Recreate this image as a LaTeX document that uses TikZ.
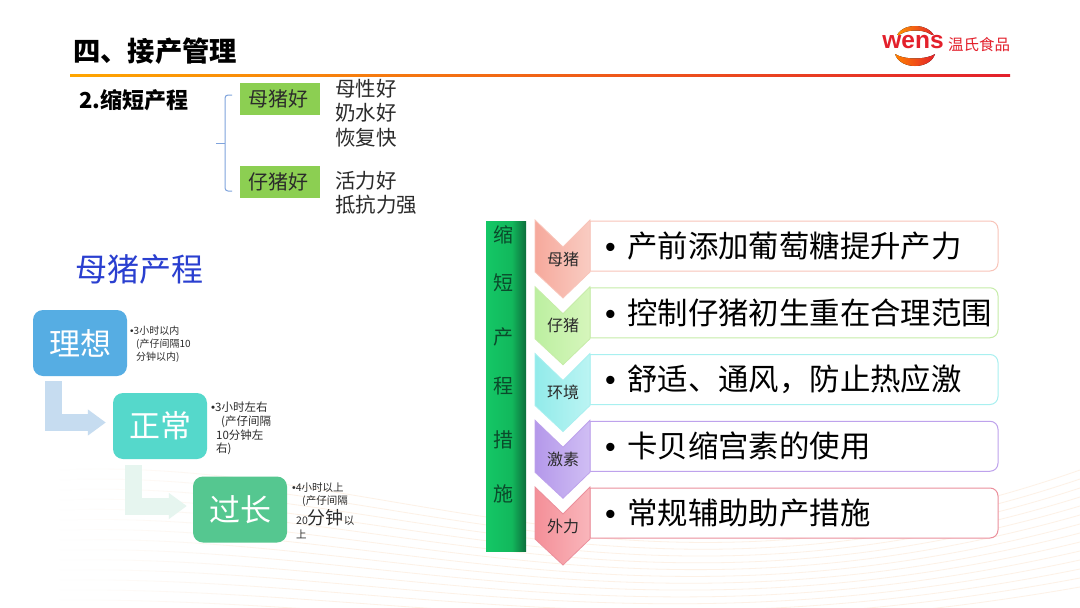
\documentclass[tikz,border=0pt]{standalone}
\usepackage{fontspec}
\setmainfont{Noto Sans CJK SC}
\newfontfamily\latinfont{Liberation Sans}
\usetikzlibrary{arrows.meta,calc,fadings}

\definecolor{wavec}{HTML}{FDF1E6}
\definecolor{redc}{HTML}{E3202B}
\definecolor{bluec}{HTML}{7FA3DC}
\definecolor{greenc}{HTML}{8CCF52}
\definecolor{titlec}{HTML}{2A3FD0}
\definecolor{textc}{HTML}{2B2B2B}
\definecolor{lixiangc}{HTML}{56ADE3}
\definecolor{zhengc}{HTML}{55D8CB}
\definecolor{guoc}{HTML}{55C790}
\definecolor{flowa}{HTML}{C6DCF0}
\definecolor{flowb}{HTML}{E6F5EF}
\definecolor{baral}{HTML}{14C766}
\definecolor{barbl}{HTML}{12B85C}
\definecolor{bard}{HTML}{0D6E3C}
\definecolor{barte}{HTML}{0B4A2B}
\definecolor{aa}{HTML}{F6A99C}
\definecolor{ab}{HTML}{F9CCC2}
\definecolor{ac}{HTML}{F8C4B9}
\definecolor{ba}{HTML}{BCEFA0}
\definecolor{bb}{HTML}{D6F6BC}
\definecolor{bc}{HTML}{C6ECA8}
\definecolor{ca}{HTML}{92EBEA}
\definecolor{cb}{HTML}{BBF4F3}
\definecolor{cc}{HTML}{A8F0F0}
\definecolor{da}{HTML}{B498EA}
\definecolor{db}{HTML}{D0BEF4}
\definecolor{dc}{HTML}{BEA2EC}
\definecolor{ea}{HTML}{F48F98}
\definecolor{eb}{HTML}{F9B6BB}
\definecolor{ec}{HTML}{EB8F9C}
\pgfdeclarehorizontalshading{barshade}{100bp}{color(0bp)=(baral); color(25bp)=(baral); color(57bp)=(barbl); color(75bp)=(bard); color(100bp)=(bard)}

\begin{document}
\begin{tikzpicture}[x=1pt, y=-1pt, inner sep=0pt,
		wave/.style = {wavec, line width=0.8pt},
		greenbox/.style = {fill=greenc, minimum width=80pt, minimum height=32pt, text=textc, font=\fontsize{20}{24}\selectfont},
		sidetext/.style = {anchor=west, align=left, text=textc, font=\fontsize{20.5}{24.5}\selectfont},
		stage/.style = {rounded corners=10pt, minimum width=94pt, minimum height=66pt, text=white, font=\fontsize{31}{36}\selectfont},
		note/.style = {anchor=north west, align=left, text=textc},
		flow/.style = {line width=17pt, -{Triangle[length=18pt,width=25pt]}},
		barchar/.style = {text=barte, font=\fontsize{20}{24}\selectfont},
		cardtext/.style = {anchor=west, text=black, font=\fontsize{30.4}{36}\selectfont},
		chevtext/.style = {text=textc, font=\fontsize{16}{20}\selectfont}]
		
		\useasboundingbox (0,0) rectangle (1080,608);
		\fill[white] (0,0) rectangle (1080,608);
		
		\foreach \k in {0,...,13}
			\draw[wave] (60,{470+\k*10}) .. controls (380,{455+\k*11}) and (640,{625+\k*3}) .. (1080,{470+\k*9});
		\fill[white, path fading=east] (59,460) rectangle (300,608);
		
		\node[anchor=west, font=\fontsize{27.3}{32}\selectfont\bfseries] (title) at (73,51) {四、接产管理};
		\shade[left color=orange!70!yellow, middle color=orange!85!red, right color=redc] (70,74) rectangle (1010,76.5);
		
		\fill[left color=orange!80!yellow, right color=redc] (896,38) .. controls (900,22) and (930,22) .. (935,38) .. controls (928,28) and (903,28) .. (896,38) -- cycle;
		\fill[left color=orange, right color=redc] (895,54) .. controls (900,70) and (930,70) .. (935,54) .. controls (926,60) and (904,60) .. (895,54) -- cycle;
		\node[text=redc, fill=white, inner sep=1pt, font=\latinfont\bfseries\fontsize{24.5}{28}\selectfont] (wens) at (913,42.5) {wens};
		\node[anchor=west, text=redc, font=\fontsize{15.5}{18}\selectfont] (wensname) at (948,45) {温氏食品};
		
		\node[anchor=west, font=\fontsize{22}{26}\selectfont\bfseries] (sub) at (79,100) {2.缩短产程};
		
		\node[greenbox] (muzhu) at (280,99) {\kern-4pt 母猪好};
		\node[greenbox] (zizhu) at (280,181.5) {\kern-4pt 仔猪好};
		\node[sidetext] (mutext) at (335,113) {母性好\\奶水好\\恢复快};
		\node[sidetext] (zitext) at (335,193) {活力好\\抵抗力强};
		
		\coordinate (bracetip) at (216,143);
		\coordinate (bracetop) at (232,95);
		\coordinate (bracebot) at (232,191);
		\draw[bluec, line width=1pt, rounded corners=3pt] (bracetop) -- ++(-7,0) |- (bracebot);
		\draw[bluec, line width=1pt] (bracetip) -- ++(9,0);
		
		\node[anchor=west, text=titlec, font=\fontsize{32}{38}\selectfont] (chancheng) at (75,269) {母猪产程};
		
		\node[stage, fill=lixiangc] (lixiang) at (80,343) {理想};
		\node[stage, fill=zhengc] (zhengchang) at (160,426) {正常};
		\node[stage, fill=guoc] (guochang) at (240,509.5) {过长};
		
		\draw[flow, flowa] ($(lixiang.south west)+(20.5,5)$) |- ($(zhengchang.west)+(-7,-3.5)$);
		\draw[flow, flowb] ($(zhengchang.south west)+(20.5,6)$) |- ($(guochang.west)+(-6,-3.5)$);
		
		\node[note, font=\fontsize{10}{13}\selectfont] (note1) at (130,325.5) {{\latinfont •}3小时以内\\\hspace*{6pt}(产仔间隔10\\\hspace*{6pt}分钟以内)};
		\node[note, font=\fontsize{11.5}{13.7}\selectfont] (note2) at (211,402) {{\latinfont •}3小时左右\\\hspace*{10pt}(产仔间隔\\\hspace*{5pt}10分钟左\\\hspace*{5pt}右)};
		\node[note, font=\fontsize{10.5}{12.5}\selectfont] (note3) at (292,483) {{\latinfont •}4小时以上\\\hspace*{10pt}(产仔间隔\\[2pt]\hspace*{4pt}20{\fontsize{18}{18}\selectfont 分钟}以\\[1pt]\hspace*{4pt}上};
		
		\node[minimum width=40pt, minimum height=330pt, shading=barshade] (bar) at (506,386) {};
		\foreach \i/\ch/\y in {1/缩/235,2/短/283,3/产/337,4/程/386,5/措/440,6/施/494}
			\node[barchar] (bar\i) at (503,\y) {\ch};
		
		\foreach \i/\lab/\txt/\ca/\cb/\cc [evaluate=\i as \y using {220+66.75*(\i-1)}] in {
			1/母猪/产前添加葡萄糖提升产力/aa/ab/ac,
			2/仔猪/控制仔猪初生重在合理范围/ba/bb/bc,
			3/环境/舒适、通风，防止热应激/ca/cb/cc,
			4/激素/卡贝缩宫素的使用/da/db/dc,
			5/外力/常规辅助助产措施/ea/eb/ec} {
			\draw[\cc, line width=1pt, fill=white] (590,\y+1) [rounded corners=8pt] -- (998,\y+1) -- (998,\y+51) [sharp corners] -- (590,\y+51) -- cycle;
			\path[draw=\cc, line width=0.8pt, left color=\ca, right color=\cb] (535,\y) -- ++(28,27) -- ++(27,-27) -- ++(0,52) -- ++(-27,26) -- ++(-28,-26) -- cycle;
			\node[chevtext] (chev\i) at (563,\y+39) {\lab};
			\node[cardtext] (card\i) at (605,\y+26) {{\latinfont •}\hspace{11.5pt}\txt};
		}
	\end{tikzpicture}
\end{document}
